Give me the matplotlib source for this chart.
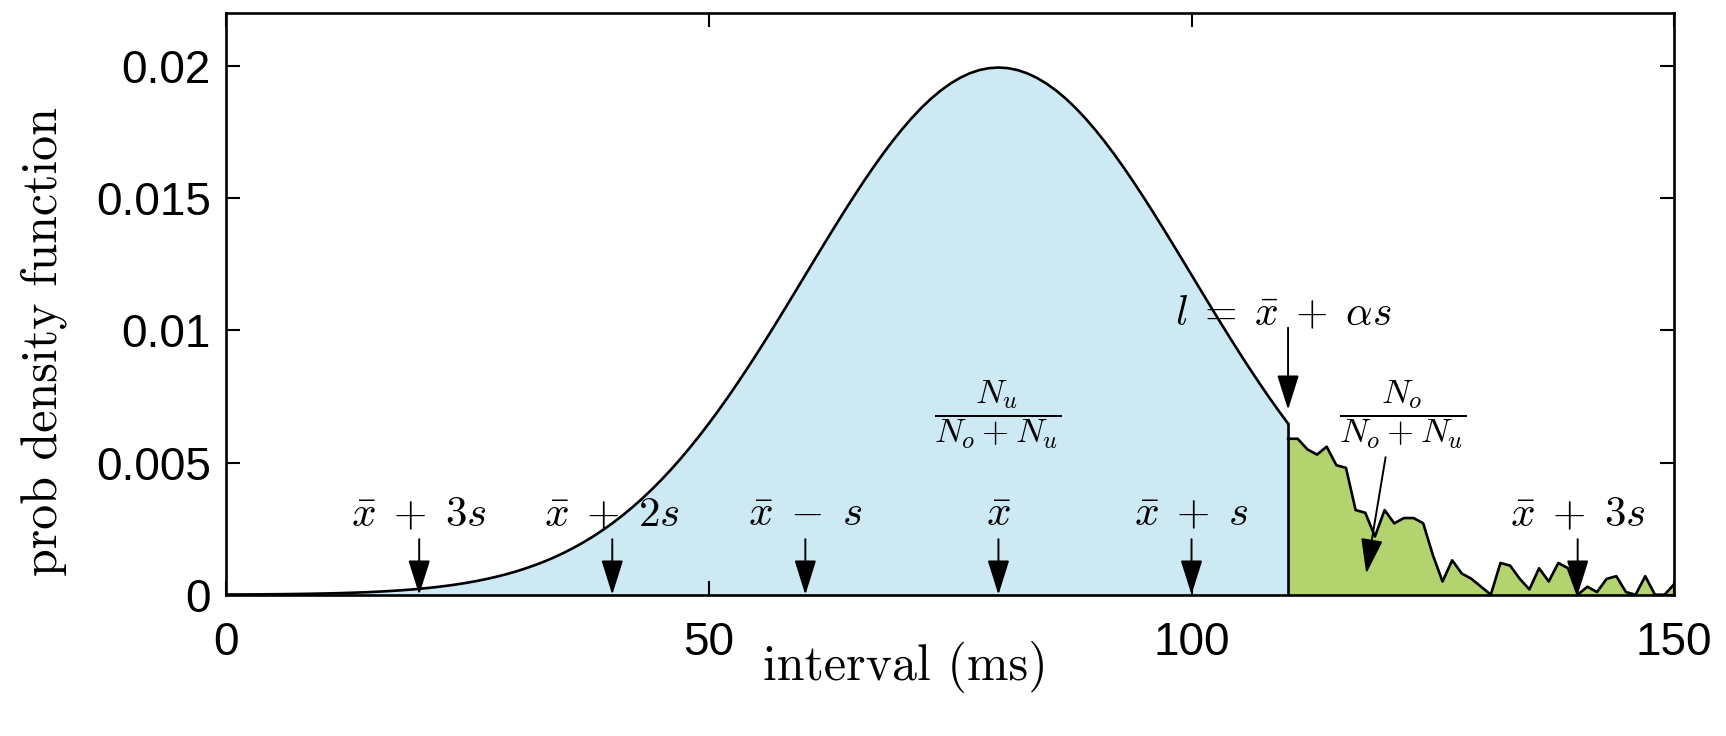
import matplotlib
matplotlib.use("Agg")
import matplotlib.pyplot as plt

plt.rcParams['mathtext.fontset'] = 'cm'

# curve below the limit l, one value per ms
blue_x = list(range(0, 111))
blue_y = [0.000007, 0.000008, 0.000010, 0.000012, 0.000015, 0.000018, 0.000021, 0.000026,
          0.000031, 0.000037, 0.000044, 0.000052, 0.000062, 0.000073, 0.000086, 0.000101,
          0.000119, 0.000140, 0.000163, 0.000190, 0.000222, 0.000257, 0.000298, 0.000344,
          0.000396, 0.000455, 0.000521, 0.000596, 0.000679, 0.000772, 0.000876, 0.000992,
          0.001120, 0.001261, 0.001416, 0.001587, 0.001774, 0.001978, 0.002199, 0.002440,
          0.002700, 0.002980, 0.003281, 0.003603, 0.003948, 0.004314, 0.004702, 0.005113,
          0.005546, 0.006001, 0.006476, 0.006971, 0.007486, 0.008019, 0.008568, 0.009132,
          0.009709, 0.010297, 0.010893, 0.011494, 0.012099, 0.012703, 0.013304, 0.013899,
          0.014484, 0.015057, 0.015613, 0.016149, 0.016661, 0.017147, 0.017603, 0.018026,
          0.018413, 0.018762, 0.019069, 0.019333, 0.019552, 0.019724, 0.019848, 0.019922,
          0.019947, 0.019922, 0.019848, 0.019724, 0.019552, 0.019333, 0.019069, 0.018762,
          0.018413, 0.018026, 0.017603, 0.017147, 0.016661, 0.016149, 0.015613, 0.015057,
          0.014484, 0.013899, 0.013304, 0.012703, 0.012099, 0.011494, 0.010893, 0.010297,
          0.009709, 0.009132, 0.008568, 0.008019, 0.007486, 0.006971, 0.006476]

# measured tail above l
green_x = [110, 111, 112, 113, 114, 115, 116, 117, 118, 119, 120, 121, 122, 123, 124,
           125, 126, 127, 128, 129, 130, 131, 132, 133, 134, 135, 136, 137, 138, 139,
           140, 141, 142, 143, 144, 145, 146, 147, 148, 149, 150]
green_y = [0.0059, 0.0059, 0.0055, 0.0053, 0.0056, 0.0049, 0.0048, 0.0032, 0.0031, 0.0022,
           0.0032, 0.0027, 0.0029, 0.0029, 0.0027, 0.0015, 0.0005, 0.0013, 0.0008, 0.0006,
           0.0003, 0.0000, 0.0012, 0.0011, 0.0006, 0.0002, 0.0010, 0.0005, 0.0012, 0.0010,
           0.0000, 0.0003, 0.0001, 0.0006, 0.0007, 0.0001, 0.0000, 0.0007, 0.0000, 0.0000,
           0.0004]

limit_x = 110
marker_x = [20, 40, 60, 80, 100, 140]
marker_labels = [r'$\bar{x}\;+\;3s$', r'$\bar{x}\;+\;2s$', r'$\bar{x}\;-\;s$', r'$\bar{x}$',
                 r'$\bar{x}\;+\;s$', r'$\bar{x}\;+\;3s$']

xticks = [0, 50, 100, 150]
yticks = [0, 0.005, 0.01, 0.015, 0.02]
ytick_labels = ['0', '0.005', '0.01', '0.015', '0.02']

fig = plt.figure(figsize=(17.26, 7.36), dpi=100)
ax = fig.add_axes([0.131, 0.192, 0.839, 0.790])

ax.fill_between(blue_x, 0, blue_y, color='#cde9f4', lw=0)
ax.fill_between(green_x, 0, green_y, color='#b3d36e', lw=0)
ax.plot(blue_x, blue_y, color='black', lw=1.9)
ax.plot(green_x, green_y, color='black', lw=1.9)
ax.plot([limit_x, limit_x], [0, blue_y[-1]], color='black', lw=1.9)

arrow = dict(arrowstyle='-|>,head_length=1.08,head_width=0.34', color='black',
             lw=1.4, shrinkA=0, shrinkB=0, mutation_scale=20)

for x, lab in zip(marker_x, marker_labels):
    ax.annotate('', xy=(x, 0), xytext=(x, 0.0021), arrowprops=arrow)
    ax.text(x, 0.0026, lab, ha='center', va='baseline', fontsize=31)

ax.annotate('', xy=(limit_x, 0.0070), xytext=(limit_x, 0.0101), arrowprops=arrow)
ax.text(109.5, 0.0102, r'$l\;=\;\bar{x}\;+\;\alpha s$', ha='center', va='baseline',
        fontsize=30)

ax.text(79.9, 0.0068, r'$\dfrac{N_u}{N_o+N_u}$', ha='center', va='center', fontsize=25)
ax.text(121.9, 0.0068, r'$\dfrac{N_o}{N_o+N_u}$', ha='center', va='center', fontsize=25)
ax.annotate('', xy=(118.1, 0.0008), xytext=(120.1, 0.0052), arrowprops=arrow)

ax.set_xlim(0, 150)
ax.set_ylim(0, 0.022)
ax.set_xticks(xticks)
ax.set_yticks(yticks)
ax.set_yticklabels(ytick_labels)
ax.tick_params(direction='in', length=10, width=1.5, top=True, right=True,
               labelsize=33)
ax.tick_params(axis='x', pad=19)
ax.tick_params(axis='y', pad=11)
for t in ax.get_xticklabels() + ax.get_yticklabels():
    t.set_fontfamily('Liberation Sans')
for s in ax.spines.values():
    s.set_linewidth(1.9)

ax.set_xlabel('interval (ms)', fontfamily='cmr10', fontsize=36)
ax.set_ylabel('prob density function', fontfamily='cmr10', fontsize=36)
ax.xaxis.set_label_coords(0.469, -0.125)
ax.xaxis.label.set_va('center')
ax.yaxis.set_label_coords(-0.126, 0.436)
ax.yaxis.label.set_va('center')

fig.savefig('out.png', dpi=100)
